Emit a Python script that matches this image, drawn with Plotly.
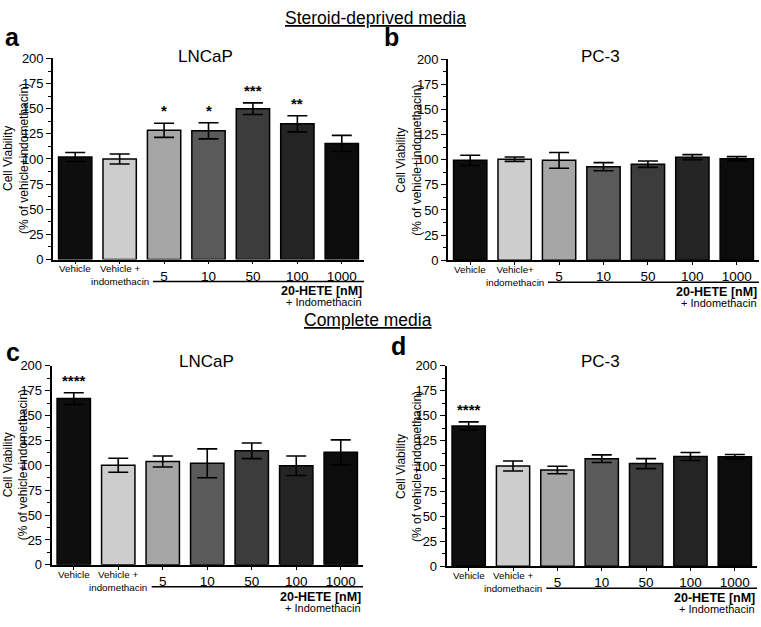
import plotly.graph_objects as go

W, H = 761, 627

categories = ["Vehicle", "Vehicle +", "5", "10", "50", "100", "1000"]
tick_labels = ["", "", "5", "10", "50", "100", "1000"]
vehicle_labels_ac = ["Vehicle", "Vehicle +<br>indomethacin"]
vehicle_labels_b = ["Vehicle", "Vehicle+<br>indomethacin"]
bar_colors = ["#0e0e0e", "#cdcdcd", "#a6a6a6", "#5a5a5a", "#3c3c3c", "#242424", "#0c0c0c"]

a_vals = [102, 100, 128.5, 128, 150, 135, 115.5]
a_err = [4.5, 5, 7, 8, 5.8, 8, 8]
a_stars = ["", "", "*", "*", "***", "**", ""]

b_vals = [99.3, 100.5, 99.3, 93, 95.5, 102.5, 101]
b_err = [5.1, 2.2, 7.8, 4, 3.2, 2.5, 2]
b_stars = ["", "", "", "", "", "", ""]

c_vals = [167, 100, 103.8, 102, 114.5, 99.5, 113]
c_err = [5.8, 7, 5.5, 14.5, 7.8, 9.8, 12.5]
c_stars = ["****", "", "", "", "", "", ""]

d_vals = [140, 100, 96, 107.3, 102.4, 109.5, 109.3]
d_err = [4, 5, 3.7, 3.8, 5, 4, 2.2]
d_stars = ["****", "", "", "", "", "", ""]

panels = [
    dict(letter="a", line="LNCaP", vals=a_vals, err=a_err, stars=a_stars, vlab=vehicle_labels_ac,
         xd=(53, 364), yd=(52.7, 258.7), lpos=(12.5, 31), tpos=(205, 51), ytx=16),
    dict(letter="b", line="PC-3", vals=b_vals, err=b_err, stars=b_stars, vlab=vehicle_labels_b,
         xd=(448, 759), yd=(53.3, 259.5), lpos=(391, 31), tpos=(600, 51), ytx=409),
    dict(letter="c", line="LNCaP", vals=c_vals, err=c_err, stars=c_stars, vlab=vehicle_labels_ac,
         xd=(51.5, 363), yd=(367.5, 571.5), lpos=(12.5, 353), tpos=(206, 363), ytx=16),
    dict(letter="d", line="PC-3", vals=d_vals, err=d_err, stars=d_stars, vlab=vehicle_labels_ac,
         xd=(446.5, 757), yd=(367.5, 573), lpos=(398, 347), tpos=(600, 363), ytx=409),
]

FONT = "Liberation Sans, Arial, Helvetica, sans-serif"
fig = go.Figure()
annotations = []
shapes = []

def px(x):
    return x / W

def py(y):
    return 1 - y / H

for i, p in enumerate(panels):
    k = "" if i == 0 else str(i + 1)
    xname, yname = "x" + k, "y" + k
    xs = list(range(len(categories)))
    fig.add_trace(go.Bar(
        x=xs, y=p["vals"], width=0.75, xaxis=xname, yaxis=yname,
        marker=dict(color=bar_colors, line=dict(color="black", width=1.5)),
        error_y=dict(type="data", array=p["err"], visible=True, color="black", thickness=1.6, width=10),
        showlegend=False, hoverinfo="skip",
    ))
    fig.layout["xaxis" + k] = dict(
        domain=[px(p["xd"][0]), px(p["xd"][1])], anchor=yname, range=[-0.5, 6.5],
        tickvals=xs, ticktext=tick_labels, tickfont=dict(size=13.5, color="black", family=FONT),
        ticks="outside", ticklen=3, tickwidth=1.2, tickcolor="black",
        showline=True, linecolor="black", linewidth=1.6, showgrid=False, zeroline=False,
        fixedrange=True,
    )
    fig.layout["yaxis" + k] = dict(
        domain=[py(p["yd"][1]), py(p["yd"][0])], anchor=xname, range=[0, 200],
        tickvals=list(range(0, 201, 25)), tickfont=dict(size=13, color="black", family=FONT),
        ticks="outside", ticklen=5, tickwidth=1.4, tickcolor="black",
        minor=dict(ticks="outside", ticklen=3, tickwidth=1.2, tickcolor="black", dtick=12.5, tick0=0),
        showline=True, linecolor="black", linewidth=1.6, showgrid=False, zeroline=False,
        fixedrange=True,
    )
    for j, s in enumerate(p["stars"]):
        if s:
            annotations.append(dict(x=j, y=p["vals"][j] + p["err"][j], xref=xname, yref=yname,
                                    text="<b>" + s + "</b>", showarrow=False, yanchor="bottom",
                                    yshift=2, font=dict(size=15, color="black", family=FONT)))
    ybot = p["yd"][1]
    for j, lab in enumerate(p["vlab"]):
        annotations.append(dict(x=j, y=py(ybot + 2), xref=xname, yref="paper", text=lab,
                                showarrow=False, yanchor="top", xanchor="center",
                                font=dict(size=9.8, color="black", family=FONT)))
    shapes.append(dict(type="line", xref=xname, yref="paper", x0=1.75, x1=6.5,
                       y0=py(ybot + 22.5), y1=py(ybot + 22.5), line=dict(color="black", width=1.5)))
    annotations.append(dict(x=px(p["xd"][1]), y=py(ybot + 32.5), xref="paper", yref="paper",
                            text="<b>20-HETE [nM]</b>", showarrow=False, xanchor="right", yanchor="middle",
                            font=dict(size=12.5, color="black", family=FONT)))
    annotations.append(dict(x=px(p["xd"][1]), y=py(ybot + 44), xref="paper", yref="paper",
                            text="+ Indomethacin", showarrow=False, xanchor="right", yanchor="middle",
                            font=dict(size=11, color="black", family=FONT)))
    ymid = (p["yd"][0] + p["yd"][1]) / 2
    annotations.append(dict(x=px(p["ytx"]), y=py(ymid), xref="paper", yref="paper",
                            text="Cell Viability<br>(% of vehicle+indomethacin)", textangle=-90,
                            showarrow=False, xanchor="center", yanchor="middle",
                            font=dict(size=12, color="black", family=FONT)))
    annotations.append(dict(x=px(p["lpos"][0]), y=py(p["lpos"][1]), xref="paper", yref="paper",
                            text="<b>" + p["letter"] + "</b>", showarrow=False,
                            xanchor="center", yanchor="middle",
                            font=dict(size=25, color="black", family=FONT)))
    annotations.append(dict(x=px(p["tpos"][0]), y=py(p["tpos"][1]), xref="paper", yref="paper",
                            text=p["line"], showarrow=False, xanchor="center", yanchor="middle",
                            font=dict(size=17, color="black", family=FONT)))

annotations.append(dict(x=px(375), y=py(11), xref="paper", yref="paper",
                        text="<u>Steroid-deprived media</u>", showarrow=False,
                        xanchor="center", yanchor="middle", font=dict(size=17.5, color="black", family=FONT)))
annotations.append(dict(x=px(368), y=py(321), xref="paper", yref="paper",
                        text="<u>Complete media</u>", showarrow=False,
                        xanchor="center", yanchor="middle", font=dict(size=17.5, color="black", family=FONT)))

fig.update_layout(
    width=W, height=H, margin=dict(l=0, r=0, t=0, b=0),
    paper_bgcolor="white", plot_bgcolor="white",
    annotations=annotations, shapes=shapes, bargap=0.25,
    font=dict(family=FONT, color="black"),
)

fig.write_html("out.html", config={"displayModeBar": False},
               post_script="document.body.style.margin='0';document.body.style.overflow='hidden';")
